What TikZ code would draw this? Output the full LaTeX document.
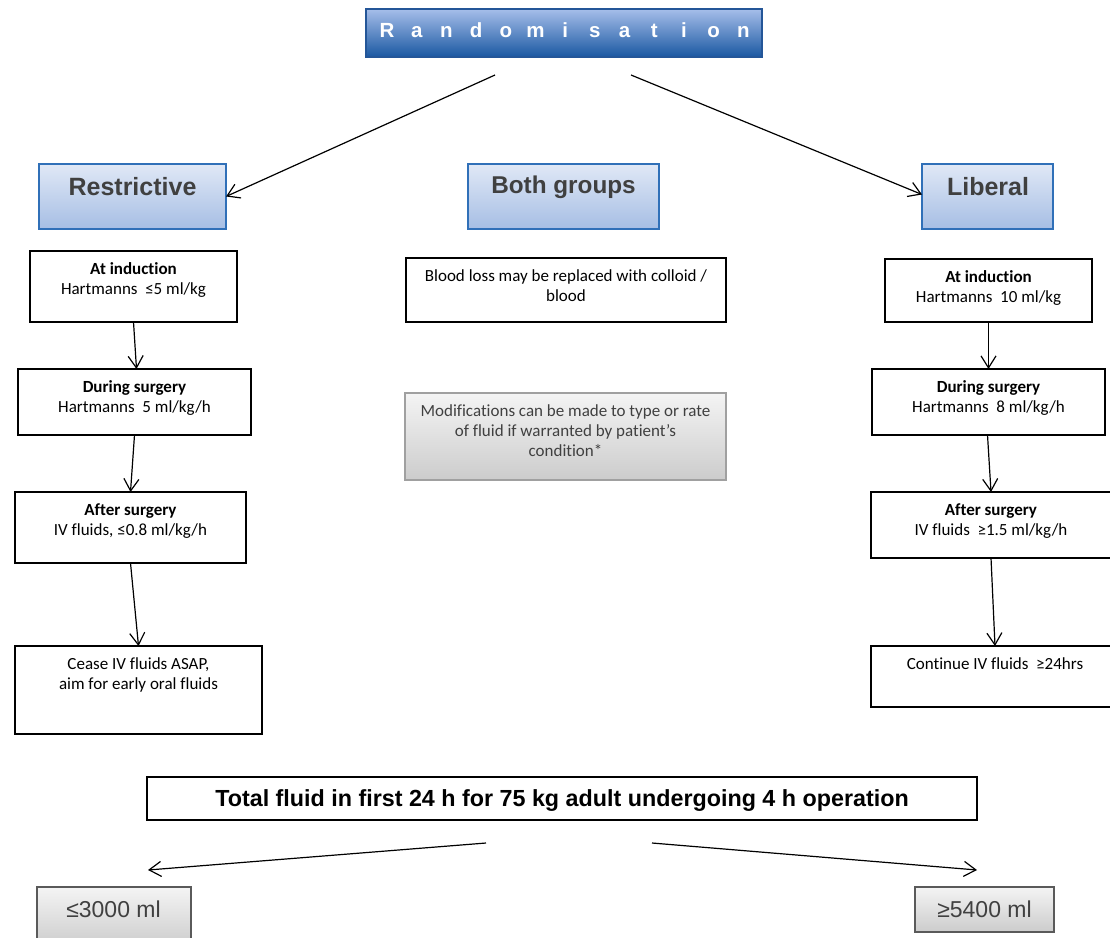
\documentclass[tikz,border=0pt]{standalone}
\usepackage{fontspec}
\setmainfont{Carlito}[Ligatures=NoCommon]
\newfontfamily\arialf{Liberation Sans}
\usetikzlibrary{arrows.meta,calc}
\definecolor{hdtop}{RGB}{224,232,246}
\definecolor{hdbot}{RGB}{166,190,228}
\definecolor{hdborder}{RGB}{48,112,184}
\definecolor{randtop}{RGB}{166,190,234}
\definecolor{randbot}{RGB}{26,88,162}
\definecolor{randborder}{RGB}{36,86,152}
\definecolor{greytop}{RGB}{244,244,244}
\definecolor{greybot}{RGB}{204,204,204}
\definecolor{greyborder}{RGB}{160,160,160}
\definecolor{dgreyborder}{RGB}{90,90,90}
\definecolor{txtgrey}{RGB}{64,64,64}
\begin{document}
\begin{tikzpicture}[x=1pt,y=-1pt,
  box/.style={draw=black, line width=1.3pt, fill=white, anchor=north west, inner sep=0pt, outer sep=0pt},
  hdbox/.style={draw=hdborder, line width=1.3pt, top color=hdtop, bottom color=hdbot, anchor=north west, inner sep=0pt, outer sep=0pt},
  randbox/.style={draw=randborder, line width=1.3pt, top color=randtop, bottom color=randbot, anchor=north west, inner sep=0pt, outer sep=0pt},
  greybox/.style={draw=greyborder, line width=1.2pt, top color=greytop, bottom color=greybot, anchor=north west, inner sep=0pt, outer sep=0pt},
  resbox/.style={draw=dgreyborder, line width=1.3pt, top color=greytop, bottom color=greybot, anchor=north west, inner sep=0pt, outer sep=0pt},
  body/.style={anchor=north, inner sep=0pt, align=center, font=\fontsize{17}{20}\selectfont, text=black},
  hdtext/.style={anchor=base, inner sep=0pt, font=\arialf\bfseries\fontsize{25}{28}\selectfont, text=txtgrey},
  restext/.style={anchor=base, inner sep=0pt, font=\arialf\fontsize{23}{26}\selectfont, text=txtgrey},
  lettertext/.style={anchor=base, inner sep=0pt, font=\arialf\bfseries\fontsize{20.5}{24}\selectfont, text=white},
  arr/.style={-{Straight Barb[length=12pt,width=15pt]}, line width=1.2pt},
]
\path[use as bounding box] (0,0) rectangle (1110,937);
\clip (0,0) rectangle (1110,937);

% Randomisation
\node[randbox, minimum width=396, minimum height=48] (rand) at (366,9) {};
\foreach \c [count=\i] in {R,a,n,d,o,m,i,s,a,t,i,o,n}
  \node[lettertext] (let\i) at ({387+29.7*(\i-1)},37) {\c};
\coordinate (randl) at (495,75);
\coordinate (randr) at (631,75);

% group headers
\node[hdbox, minimum width=187, minimum height=65] (res) at (39,164) {};
\node[hdtext] (restxt) at (132.5,195) {Restrictive};
\node[hdbox, minimum width=191, minimum height=65] (both) at (468,164) {};
\node[hdtext, font=\arialf\bfseries\fontsize{24.3}{28}\selectfont] (bothtxt) at (563.5,193) {Both groups};
\node[hdbox, minimum width=131, minimum height=65] (lib) at (922,164) {};
\node[hdtext] (libtxt) at (988,195) {Liberal};

% left column
\node[box, minimum width=207, minimum height=71] (lind) at (30,251) {};
\node[body] (lindt) at ([yshift=-9pt]lind.north) {\strut\textbf{At induction}\\Hartmanns~~≤5 ml/kg};
\node[box, minimum width=233, minimum height=66] (ldur) at (18,369) {};
\node[body] (ldurt) at ([yshift=-9pt]ldur.north) {\strut\textbf{During surgery}\\Hartmanns~~5 ml/kg/h};
\node[box, minimum width=231, minimum height=71] (laft) at (15,492) {};
\node[body] (laftt) at ([yshift=-9pt]laft.north) {\strut\textbf{After surgery}\\IV fluids, ≤0.8 ml/kg/h};
\node[box, minimum width=247, minimum height=88] (lces) at (15,646) {};
\node[body] (lcest) at ([yshift=-9pt]lces.north) {\strut Cease IV fluids ASAP,\\aim for early oral fluids};

% centre column
\node[box, minimum width=320, minimum height=64] (blood) at (406,258) {};
\node[body] (bloodt) at ([yshift=-9pt]blood.north) {\strut Blood loss may be replaced with colloid /\\blood};
\node[greybox, minimum width=321, minimum height=87] (mod) at (405,393) {};
\node[body, text=txtgrey] (modt) at ([yshift=-9pt]mod.north) {\strut Modifications can be made to type or rate\\of fluid if warranted by patient’s\\condition*};

% right column
\node[box, minimum width=207, minimum height=63] (rind) at (885,259) {};
\node[body] (rindt) at ([yshift=-9pt]rind.north) {\strut\textbf{At induction}\\Hartmanns~~10 ml/kg};
\node[box, minimum width=233, minimum height=66] (rdur) at (872,369) {};
\node[body] (rdurt) at ([yshift=-9pt]rdur.north) {\strut\textbf{During surgery}\\Hartmanns~~8 ml/kg/h};
\node[box, minimum width=240, minimum height=66] (raft) at (871,492) {};
\node[body] (raftt) at ([yshift=-9pt]raft.north) {\strut\textbf{After surgery}\\IV fluids~~≥1.5 ml/kg/h};
\node[box, minimum width=248, minimum height=61] (rcon) at (871,646) {};
\node[body] (rcont) at ([yshift=-9pt]rcon.north) {\strut Continue IV fluids~~≥24hrs};

% totals
\node[box, minimum width=830, minimum height=43] (total) at (147,777) {};
\node[anchor=base, inner sep=0pt, font=\arialf\bfseries\fontsize{23.3}{26}\selectfont] (totalt) at (562,806) {Total fluid in first 24 h for 75 kg adult undergoing 4 h operation};
\coordinate (totl) at (486,843);
\coordinate (totr) at (652,843);
\node[resbox, minimum width=154, minimum height=60] (low) at (37,887) {};
\node[restext] (lowt) at (113.5,917) {≤3000 ml};
\node[resbox, minimum width=139, minimum height=45] (high) at (915,887) {};
\node[restext] (hight) at (984.5,917) {≥5400 ml};

% connectors
\draw[arr] (randl) -- (res.east);
\draw[arr] (randr) -- ([yshift=2pt]lib.west);
\draw[arr] (lind.south) -- ([xshift=2pt]ldur.north);
\draw[arr] (ldur.south) -- (laft.north);
\draw[arr] (laft.south) -- (lces.north);
\draw[arr] (rind.south) -- (rdur.north);
\draw[arr] ([xshift=-1pt]rdur.south) -- (raft.north);
\draw[arr] (raft.south) -- (rcon.north);
\draw[arr] (totl) -- ([xshift=34pt,yshift=17pt]low.north);
\draw[arr] (totr) -- ([xshift=-77pt,yshift=17pt]high.north east);
\end{tikzpicture}
\end{document}
